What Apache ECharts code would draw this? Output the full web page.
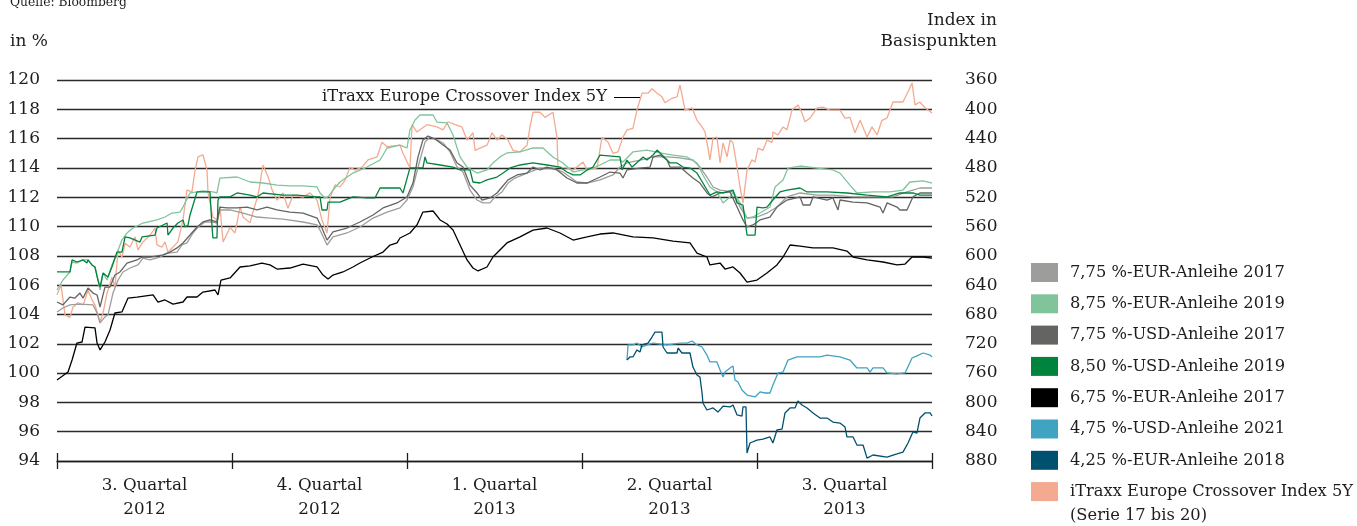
<!DOCTYPE html>
<html><head><meta charset="utf-8">
<script src="https://cdn.jsdelivr.net/npm/echarts@6.0.0/dist/echarts.min.js"></script>
<style>html,body{margin:0;padding:0;background:#fff}#c{width:1357px;height:526px}</style>
</head><body><div id="c"></div>
<script>
// x values are positions in quarters (0 = start of Q3 2012, 5 = end of Q3 2013)
const quarterLabels = ['3. Quartal\n2012','4. Quartal\n2012','1. Quartal\n2013','2. Quartal\n2013','3. Quartal\n2013'];
const leftAxis = {min: 94, max: 120, step: 2};
const rightAxis = {min: 360, max: 880, step: 40};

const eur775_2017 = [[0,104.17],[.034,104.44],[.074,104.65],[.131,104.71],[.206,104.65],[.229,104.10],[.246,103.42],[.274,103.83],[.291,103.96],[.32,105.46],[.349,106.35],[.377,106.90],[.417,107.17],[.463,107.38],[.491,107.85],[.531,107.72],[.589,107.92],[.629,108.19],[.686,108.26],[.714,108.74],[.743,108.88],[.777,109.56],[.806,109.97],[.846,110.31],[.891,110.31],[.914,110.24],[.931,111.13],[.989,111.13],[1.063,110.92],[1.143,110.65],[1.217,110.58],[1.291,110.51],[1.406,110.31],[1.486,110.11],[1.503,109.76],[1.543,108.74],[1.577,109.29],[1.657,109.56],[1.731,109.97],[1.806,110.58],[1.886,110.99],[1.96,111.27],[2.0,111.81],[2.034,112.70],[2.074,114.54],[2.103,115.77],[2.131,116.11],[2.171,115.91],[2.206,115.70],[2.246,115.09],[2.286,114.06],[2.32,113.72],[2.36,112.49],[2.4,111.81],[2.434,111.61],[2.474,111.61],[2.503,112.02],[2.543,112.36],[2.577,112.97],[2.617,113.31],[2.686,113.65],[2.76,113.99],[2.834,113.99],[2.891,113.72],[2.971,113.04],[3.029,112.97],[3.103,113.18],[3.177,113.52],[3.217,114.06],[3.257,114.34],[3.331,114.54],[3.406,114.75],[3.486,114.75],[3.56,114.68],[3.634,114.54],[3.674,114.06],[3.714,113.38],[3.749,112.70],[3.789,112.49],[3.863,112.36],[3.903,111.33],[3.943,110.58],[4.0,110.65],[4.057,110.92],[4.114,111.33],[4.171,112.02],[4.246,112.29],[4.343,112.15],[4.434,112.15],[4.549,112.02],[4.629,112.02],[4.777,112.02],[4.857,112.36],[4.931,112.63],[5.0,112.63]];

const eur875_2019 = [[0,105.67],[.034,106.35],[.074,106.90],[.086,107.58],[.114,107.51],[.149,107.72],[.177,107.72],[.2,107.38],[.217,107.24],[.234,106.35],[.246,105.67],[.263,106.83],[.286,106.35],[.314,107.38],[.343,108.19],[.371,109.08],[.4,109.56],[.434,109.90],[.491,110.24],[.571,110.45],[.617,110.65],[.657,110.92],[.703,110.99],[.72,111.33],[.76,112.29],[.8,112.36],[.834,112.43],[.891,112.36],[.914,112.29],[.931,113.31],[1.029,113.38],[1.103,113.04],[1.177,112.97],[1.257,112.83],[1.331,112.77],[1.406,112.77],[1.486,112.70],[1.503,112.29],[1.531,111.95],[1.549,112.02],[1.577,112.49],[1.617,113.04],[1.691,113.65],[1.771,114.06],[1.846,114.54],[1.886,115.36],[1.96,115.56],[2.0,115.36],[2.017,116.59],[2.046,117.27],[2.074,117.61],[2.149,117.61],[2.171,117.13],[2.229,117.07],[2.263,116.25],[2.303,114.75],[2.343,114.06],[2.4,113.65],[2.457,113.86],[2.491,114.34],[2.531,114.75],[2.571,115.02],[2.646,115.09],[2.72,115.36],[2.777,115.36],[2.834,114.75],[2.891,114.34],[2.949,113.72],[3.006,113.86],[3.063,113.99],[3.103,114.20],[3.16,114.54],[3.217,114.54],[3.234,114.40],[3.291,115.09],[3.371,115.22],[3.446,115.02],[3.52,114.88],[3.6,114.75],[3.657,114.34],[3.691,113.52],[3.731,112.70],[3.771,112.36],[3.806,111.61],[3.846,112.02],[3.863,112.36],[3.903,111.61],[3.943,110.58],[3.977,110.65],[4.017,110.92],[4.074,111.33],[4.103,112.70],[4.149,113.18],[4.177,113.99],[4.246,114.13],[4.343,113.99],[4.434,113.86],[4.474,113.65],[4.531,112.83],[4.571,112.29],[4.663,112.36],[4.76,112.36],[4.834,112.49],[4.874,113.04],[4.949,113.11],[5.0,112.97]];

const usd775_2017 = [[0,104.85],[.034,104.65],[.074,105.19],[.103,105.12],[.131,105.46],[.149,105.12],[.177,105.81],[.206,105.46],[.229,105.33],[.246,104.51],[.274,105.87],[.303,105.87],[.331,106.69],[.36,106.90],[.4,107.51],[.457,107.72],[.486,107.92],[.531,107.92],[.606,108.06],[.646,108.26],[.686,108.54],[.72,108.88],[.76,109.42],[.8,109.97],[.834,110.31],[.874,110.45],[.914,110.31],[.931,111.33],[.971,111.27],[1.029,111.27],[1.086,111.33],[1.143,111.13],[1.2,111.33],[1.257,111.13],[1.331,110.99],[1.406,110.92],[1.486,110.58],[1.514,109.90],[1.543,109.08],[1.577,109.63],[1.657,109.90],[1.731,110.31],[1.806,110.79],[1.863,111.27],[1.943,111.61],[2.0,112.02],[2.034,112.97],[2.063,114.75],[2.091,115.91],[2.12,116.18],[2.16,115.97],[2.206,115.56],[2.246,115.22],[2.286,114.34],[2.32,114.06],[2.36,112.83],[2.4,112.29],[2.429,111.81],[2.474,111.95],[2.514,112.29],[2.543,112.70],[2.577,113.18],[2.629,113.52],[2.686,113.65],[2.72,114.06],[2.76,113.86],[2.8,114.06],[2.857,113.86],[2.914,113.31],[2.971,112.97],[3.029,112.97],[3.103,113.38],[3.16,113.72],[3.217,113.65],[3.234,113.31],[3.257,113.86],[3.331,113.99],[3.389,114.06],[3.406,114.75],[3.446,114.88],[3.486,114.54],[3.503,114.06],[3.56,114.06],[3.6,113.65],[3.634,113.31],[3.674,112.97],[3.714,112.29],[3.743,112.02],[3.789,112.29],[3.846,112.36],[3.886,111.33],[3.92,110.45],[3.943,109.97],[3.977,110.11],[4.017,110.45],[4.074,110.65],[4.114,111.33],[4.171,111.81],[4.246,112.02],[4.263,111.47],[4.303,111.47],[4.32,112.02],[4.4,111.81],[4.434,111.95],[4.463,111.13],[4.474,111.81],[4.549,111.67],[4.629,111.61],[4.703,111.33],[4.72,110.92],[4.743,111.61],[4.8,111.33],[4.817,111.13],[4.857,111.13],[4.891,112.02],[4.931,112.29],[5.0,112.29]];

const usd850_2019 = [[0,106.90],[.074,106.90],[.086,107.72],[.114,107.58],[.149,107.72],[.171,107.51],[.177,107.72],[.2,107.38],[.217,107.24],[.234,106.35],[.246,105.87],[.263,106.83],[.291,106.56],[.314,107.24],[.343,108.26],[.371,108.26],[.389,109.29],[.417,109.22],[.474,108.94],[.486,109.29],[.56,109.42],[.571,109.90],[.629,110.24],[.634,109.42],[.663,109.90],[.691,110.24],[.72,110.45],[.731,109.97],[.749,110.11],[.76,110.79],[.8,112.36],[.874,112.36],[.886,109.97],[.891,109.22],[.914,109.22],[.92,111.81],[.931,112.02],[.989,112.02],[1.029,112.29],[1.103,112.15],[1.143,112.02],[1.177,112.29],[1.291,112.15],[1.371,112.15],[1.486,112.02],[1.503,112.02],[1.514,111.13],[1.543,111.13],[1.549,111.67],[1.617,111.67],[1.691,112.02],[1.771,111.95],[1.817,111.95],[1.846,112.63],[1.96,112.63],[1.977,112.29],[2.017,114.0],[2.091,114.0],[2.103,114.75],[2.114,114.34],[2.189,114.20],[2.263,114.06],[2.303,113.86],[2.36,113.86],[2.377,113.04],[2.417,112.97],[2.457,113.18],[2.514,113.38],[2.549,113.65],[2.589,114.0],[2.646,114.20],[2.72,114.34],[2.8,114.20],[2.874,114.06],[2.914,113.72],[2.949,113.52],[2.989,113.52],[3.029,113.86],[3.063,114.06],[3.103,114.88],[3.217,114.75],[3.229,113.86],[3.257,114.54],[3.286,114.06],[3.331,114.54],[3.349,114.75],[3.371,114.54],[3.406,114.88],[3.429,115.22],[3.446,115.02],[3.486,114.54],[3.503,114.34],[3.543,114.34],[3.577,114.06],[3.617,113.99],[3.657,113.65],[3.691,112.97],[3.731,112.15],[3.771,112.36],[3.806,112.29],[3.863,112.49],[3.886,111.61],[3.92,111.47],[3.943,109.42],[3.989,109.42],[4.0,111.33],[4.034,111.27],[4.057,111.33],[4.091,111.81],[4.131,112.36],[4.171,112.49],[4.246,112.63],[4.286,112.36],[4.4,112.36],[4.514,112.29],[4.629,112.15],[4.743,112.02],[4.817,112.29],[4.891,112.29],[4.931,112.15],[5.0,112.15]];

const eur675_2017 = [[0,99.53],[.063,100.07],[.086,100.89],[.114,102.05],[.143,102.12],[.16,103.14],[.217,103.08],[.229,102.05],[.246,101.58],[.274,102.12],[.303,102.94],[.331,104.10],[.371,104.17],[.406,105.12],[.457,105.19],[.549,105.33],[.577,104.85],[.617,104.99],[.663,104.71],[.72,104.85],[.743,105.19],[.8,105.19],[.834,105.53],[.903,105.67],[.92,105.33],[.937,106.35],[.989,106.49],[1.046,107.24],[1.103,107.31],[1.171,107.51],[1.217,107.38],[1.257,107.10],[1.331,107.17],[1.406,107.44],[1.486,107.24],[1.52,106.69],[1.549,106.42],[1.577,106.69],[1.634,106.90],[1.691,107.24],[1.731,107.51],[1.8,107.92],[1.863,108.26],[1.903,108.74],[1.943,108.88],[1.96,109.22],[2.017,109.56],[2.057,110.11],[2.091,110.99],[2.149,111.06],[2.189,110.45],[2.229,110.17],[2.263,109.76],[2.303,108.74],[2.343,107.72],[2.377,107.17],[2.406,106.97],[2.457,107.24],[2.491,107.92],[2.571,108.88],[2.646,109.29],[2.72,109.76],[2.8,109.90],[2.874,109.56],[2.949,109.08],[3.029,109.29],[3.103,109.49],[3.177,109.56],[3.291,109.29],[3.406,109.22],[3.52,109.01],[3.617,108.88],[3.657,108.19],[3.714,107.92],[3.731,107.38],[3.789,107.51],[3.817,107.10],[3.863,107.24],[3.903,106.83],[3.943,106.21],[4.0,106.35],[4.057,106.83],[4.114,107.38],[4.149,107.92],[4.189,108.74],[4.246,108.67],[4.32,108.54],[4.434,108.54],[4.514,108.33],[4.549,107.92],[4.629,107.72],[4.72,107.58],[4.8,107.38],[4.846,107.44],[4.886,107.92],[4.949,107.92],[5.0,107.85]];

const usd475_2021 = [[3.257,100.89],[3.263,101.92],[3.291,101.92],[3.314,102.05],[3.343,101.78],[3.371,101.92],[3.406,102.05],[3.486,101.92],[3.56,102.05],[3.6,102.05],[3.629,102.19],[3.657,101.92],[3.686,101.78],[3.714,101.23],[3.731,100.76],[3.771,100.76],[3.789,100.21],[3.806,99.73],[3.817,100.07],[3.846,100.35],[3.863,100.48],[3.874,99.53],[3.891,99.39],[3.914,98.85],[3.943,98.50],[3.989,98.37],[4.017,98.71],[4.046,98.64],[4.074,98.64],[4.091,99.19],[4.12,100.01],[4.149,100.07],[4.177,100.89],[4.229,101.10],[4.286,101.10],[4.36,101.10],[4.4,101.23],[4.474,101.10],[4.531,100.89],[4.571,100.35],[4.629,100.35],[4.646,100.07],[4.663,100.35],[4.72,100.35],[4.743,100.01],[4.8,99.94],[4.846,100.01],[4.886,101.03],[4.914,101.17],[4.949,101.37],[4.989,101.23],[5.0,101.10]];

const eur425_2018 = [[3.257,100.89],[3.274,101.10],[3.291,101.10],[3.314,101.58],[3.331,101.44],[3.343,101.92],[3.377,102.05],[3.4,102.46],[3.417,102.80],[3.457,102.80],[3.463,101.78],[3.486,101.37],[3.543,101.37],[3.549,101.71],[3.571,101.37],[3.617,101.37],[3.634,100.41],[3.657,99.87],[3.674,99.73],[3.686,98.64],[3.691,97.96],[3.714,97.48],[3.749,97.62],[3.777,97.34],[3.806,97.75],[3.846,97.69],[3.863,97.82],[3.886,97.14],[3.914,97.07],[3.92,97.69],[3.937,97.69],[3.943,94.55],[3.96,95.23],[4.0,95.43],[4.034,95.50],[4.074,95.64],[4.091,95.23],[4.114,96.12],[4.143,96.18],[4.16,97.28],[4.189,97.62],[4.217,97.62],[4.234,98.09],[4.257,97.82],[4.286,97.62],[4.32,97.28],[4.36,96.93],[4.4,96.93],[4.434,96.66],[4.474,96.59],[4.503,96.32],[4.514,95.64],[4.549,95.64],[4.571,95.09],[4.606,95.09],[4.629,94.20],[4.663,94.41],[4.743,94.27],[4.8,94.48],[4.834,94.61],[4.863,95.23],[4.891,95.98],[4.914,95.91],[4.931,96.93],[4.96,97.28],[4.989,97.28],[5.0,97.07]];

// iTraxx Europe Crossover Index 5Y in basis points (right axis, inverted)
const itraxx = [[0,653],[.023,640],[.046,681],[.074,684],[.091,670],[.12,664],[.149,667],[.177,647],[.2,660],[.217,667],[.246,690],[.263,678],[.286,651],[.314,629],[.331,643],[.349,592],[.371,602],[.389,583],[.417,588],[.446,574],[.463,592],[.491,581],[.531,572],[.56,562],[.571,585],[.6,588],[.617,581],[.634,595],[.663,588],[.691,581],[.72,551],[.743,510],[.771,513],[.789,483],[.806,465],[.834,462],[.857,483],[.863,514],[.891,547],[.914,551],[.931,533],[.949,581],[.989,561],[1.017,569],[1.046,533],[1.063,547],[1.103,555],[1.12,540],[1.149,517],[1.177,476],[1.206,492],[1.229,510],[1.257,524],[1.291,514],[1.32,535],[1.349,517],[1.406,520],[1.446,514],[1.486,524],[1.514,551],[1.543,569],[1.56,521],[1.589,503],[1.617,506],[1.646,497],[1.674,479],[1.703,483],[1.743,479],[1.777,469],[1.829,465],[1.857,445],[1.886,451],[1.96,449],[1.977,460],[2.017,480],[2.029,421],[2.057,431],[2.114,421],[2.171,424],[2.206,428],[2.234,417],[2.274,421],[2.314,424],[2.343,442],[2.377,432],[2.389,456],[2.417,453],[2.457,449],[2.486,432],[2.514,442],[2.543,435],[2.577,442],[2.606,456],[2.646,458],[2.686,449],[2.703,424],[2.72,404],[2.76,404],[2.789,411],[2.834,404],[2.857,438],[2.863,479],[2.914,480],[2.949,483],[3.006,472],[3.029,483],[3.086,480],[3.114,438],[3.149,445],[3.177,460],[3.206,458],[3.234,438],[3.257,428],[3.291,426],[3.314,401],[3.343,378],[3.377,378],[3.4,372],[3.429,378],[3.457,383],[3.474,391],[3.514,385],[3.543,383],[3.56,367],[3.589,401],[3.629,398],[3.657,415],[3.686,424],[3.703,431],[3.72,453],[3.731,469],[3.749,439],[3.771,438],[3.789,473],[3.806,446],[3.829,465],[3.846,442],[3.863,446],[3.886,479],[3.903,506],[3.92,528],[3.943,483],[3.971,469],[3.989,472],[4.006,453],[4.034,456],[4.057,442],[4.086,445],[4.091,431],[4.12,435],[4.149,424],[4.171,428],[4.2,401],[4.234,394],[4.257,405],[4.274,417],[4.303,412],[4.343,398],[4.377,397],[4.417,401],[4.474,401],[4.503,412],[4.531,411],[4.56,432],[4.589,415],[4.629,438],[4.657,424],[4.686,435],[4.714,415],[4.743,412],[4.777,390],[4.834,390],[4.863,376],[4.886,364],[4.903,394],[4.931,390],[4.96,398],[5.0,405]];

const seriesDefs = [
  {name:'7,75 %-EUR-Anleihe 2017', data:eur775_2017, color:'#9d9d9c', y:0},
  {name:'8,75 %-EUR-Anleihe 2019', data:eur875_2019, color:'#80c49c', y:0},
  {name:'7,75 %-USD-Anleihe 2017', data:usd775_2017, color:'#646463', y:0},
  {name:'8,50 %-USD-Anleihe 2019', data:usd850_2019, color:'#00843d', y:0},
  {name:'6,75 %-EUR-Anleihe 2017', data:eur675_2017, color:'#000000', y:0},
  {name:'4,75 %-USD-Anleihe 2021', data:usd475_2021, color:'#3fa3c1', y:0},
  {name:'4,25 %-EUR-Anleihe 2018', data:eur425_2018, color:'#00506f', y:0},
  {name:'iTraxx Europe Crossover Index 5Y', data:itraxx, color:'#f4aa90', y:1}
];
const itraxxNote = '(Serie 17 bis 20)';

const TXT = '#1d1d1b';
const SERIF = '"DejaVu Serif"';
const chart = echarts.init(document.getElementById('c'), null, {renderer:'canvas'});

const series = [seriesDefs[7]].concat(seriesDefs.slice(0,7)).map(s => ({
  name: s.name, type:'line', data: s.data, xAxisIndex:1, yAxisIndex:s.y,
  showSymbol:false, symbol:'none', color:s.color,
  itemStyle:{color:s.color},
  lineStyle:{color:s.color, width:1.3}, emphasis:{disabled:true}, animation:false
}));

chart.setOption({
  animation:false,
  grid:{left:57, right:425, top:80, bottom:65, containLabel:false},
  xAxis:[
    {type:'category', data:quarterLabels, boundaryGap:true, position:'bottom',
     axisLine:{onZero:false, lineStyle:{color:TXT, width:1.3}},
     axisTick:{show:true, length:8, lineStyle:{color:TXT, width:1.3}},
     axisLabel:{fontFamily:SERIF, fontSize:16.7, lineHeight:24, margin:13, color:TXT},
     splitLine:{show:false}},
    {type:'value', min:0, max:5, interval:1, position:'bottom',
     axisLine:{show:false, onZero:false},
     axisTick:{show:true, inside:true, length:8, lineStyle:{color:TXT, width:1.3}},
     axisLabel:{show:false}, splitLine:{show:false}}
  ],
  yAxis:[
    {type:'value', min:leftAxis.min, max:leftAxis.max, interval:leftAxis.step, position:'left',
     axisLine:{show:false}, axisTick:{show:false},
     axisLabel:{fontFamily:SERIF, fontSize:17, color:TXT, margin:17},
     splitLine:{show:true, lineStyle:{color:'#2a2a2a', width:1.3}}},
    {type:'value', min:rightAxis.min, max:rightAxis.max, interval:rightAxis.step, inverse:true, position:'right',
     axisLine:{show:false}, axisTick:{show:false},
     axisLabel:{fontFamily:SERIF, fontSize:17, color:TXT, margin:33},
     splitLine:{show:false}}
  ],
  legend:{
    orient:'vertical', left:1031, top:263, padding:0, itemWidth:27, itemHeight:19, itemGap:12.3,
    icon:'rect', selectedMode:false,
    textStyle:{fontFamily:SERIF, fontSize:16.3, color:TXT, lineHeight:19, padding:[0,0,0,7]},
    data: seriesDefs.map(s=>s.name)
  },
  graphic:[
    {type:'text', left:10, top:-3, style:{text:'Quelle: Bloomberg', font:'12.3px "DejaVu Serif"', fill:TXT}},
    {type:'text', left:10, top:33, style:{text:'in %', font:'17px "DejaVu Serif"', fill:TXT}},
    {type:'text', x:997, y:10, style:{text:'Index in\nBasispunkten', font:'17px "DejaVu Serif"', fill:TXT, align:'right', verticalAlign:'top', lineHeight:21}},
    {type:'text', x:607, y:97, style:{text:'iTraxx Europe Crossover Index 5Y', font:'16.4px "DejaVu Serif"', fill:TXT, align:'right', verticalAlign:'middle'}},
    {type:'line', shape:{x1:614, y1:97.5, x2:641, y2:97.5}, style:{stroke:'#000', lineWidth:1}},
    {type:'text', x:1070, y:516, style:{text:itraxxNote, font:'16.3px "DejaVu Serif"', fill:TXT, align:'left', verticalAlign:'middle'}}
  ],
  series: series
});
</script></body></html>
